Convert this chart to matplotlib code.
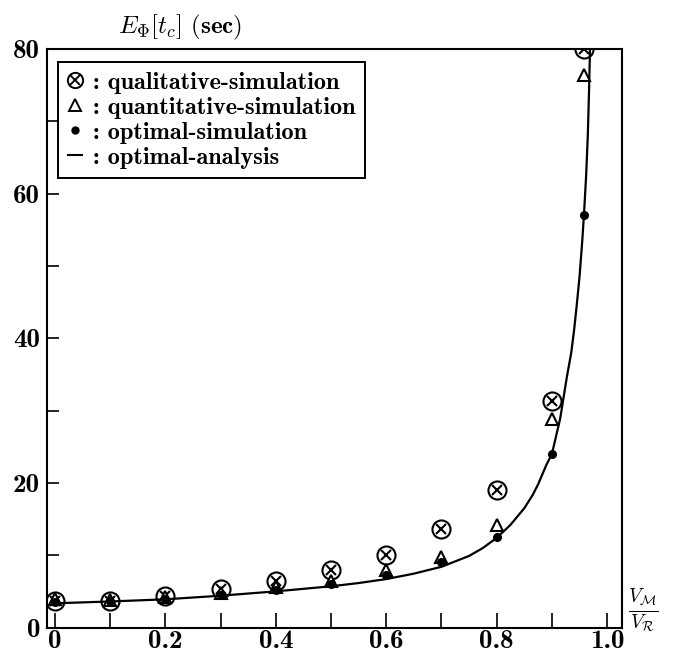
import numpy as np
import matplotlib
matplotlib.use("Agg")
import matplotlib.pyplot as plt
from matplotlib.lines import Line2D
from matplotlib.legend_handler import HandlerTuple

plt.rcParams['mathtext.fontset'] = 'cm'
plt.rcParams['axes.unicode_minus'] = False

# speed ratio V_M / V_R
ratio = [0.0, 0.1, 0.2, 0.3, 0.4, 0.5, 0.6, 0.7, 0.8, 0.9, 0.958]
qual_sim = [3.7, 3.7, 4.3, 5.3, 6.5, 8.0, 10.0, 13.6, 19.0, 31.3, 80.0]
quant_sim = [3.9, 3.8, 4.2, 4.8, 5.6, 6.5, 8.0, 9.7, 14.2, 28.9, 76.4]
opt_sim = [3.5, 3.6, 4.0, 4.5, 5.2, 6.0, 7.2, 9.0, 12.5, 24.0, 57.0]

# analytic curve for the optimal strategy
curve_x = [0.0, 0.1, 0.2, 0.3, 0.4, 0.5, 0.55, 0.6, 0.65, 0.7, 0.75, 0.775, 0.8,
           0.825, 0.85, 0.865, 0.875, 0.89, 0.9, 0.915, 0.927, 0.935, 0.94,
           0.945, 0.95, 0.955, 0.958, 0.962, 0.965, 0.967, 0.969]
curve_y = [3.35, 3.6, 3.9, 4.4, 5.0, 5.7, 6.15, 6.7, 7.45, 8.4, 9.9, 11.0, 12.4,
           14.2, 16.5, 18.3, 19.8, 22.5, 24.0, 28.9, 34.6, 38.0, 41.0,
           44.6, 48.5, 53.5, 57.0, 62.5, 68.0, 73.5, 80.0]

fig = plt.figure(figsize=(6.77, 6.54), dpi=100)
ax = fig.add_axes([0.0694, 0.0405, 0.8494, 0.8845])

ax.plot(curve_x, curve_y, color='black', lw=1.6, zorder=2)
ax.plot(ratio, qual_sim, ls='none', marker='o', ms=13, mfc='none', mec='black', mew=1.5, zorder=3)
ax.plot(ratio, qual_sim, ls='none', marker='x', ms=7.5, mec='black', mew=1.5, zorder=3)
ax.plot(ratio, quant_sim, ls='none', marker='^', ms=9, mfc='white', mec='black', mew=1.5, zorder=3)
ax.plot(ratio, opt_sim, ls='none', marker='o', ms=5.5, color='black', zorder=4)

ax.set_xlim(-0.0145, 1.027)
ax.set_ylim(0, 80)
ax.set_xticks(np.arange(0, 1.01, 0.1))
ax.set_xticklabels(['0', '', '0.2', '', '0.4', '', '0.6', '', '0.8', '', '1.0'])
ax.set_yticks(np.arange(0, 81, 10))
ax.set_yticklabels(['0', '', '20', '', '40', '', '60', '', '80'])
ax.tick_params(axis='x', direction='in', length=11, width=1.2, pad=1.5)
ax.tick_params(axis='y', direction='in', length=8.5, width=1.2, pad=5)
for lab in ax.get_xticklabels() + ax.get_yticklabels():
    lab.set_fontfamily('cmb10')
    lab.set_fontsize(19.5)
for s in ax.spines.values():
    s.set_linewidth(1.5)

# legend
h_qual = (Line2D([], [], ls='none', marker='o', ms=11, mfc='none', mec='black', mew=1.4),
          Line2D([], [], ls='none', marker='x', ms=6.5, mec='black', mew=1.4))
h_quant = Line2D([], [], ls='none', marker='^', ms=8, mfc='white', mec='black', mew=1.4)
h_opt = Line2D([], [], ls='none', marker='o', ms=5, color='black')
h_line = Line2D([], [], color='black', lw=1.5)
leg = ax.legend([h_qual, h_quant, h_opt, h_line],
                [': qualitative-simulation', ': quantitative-simulation',
                 ': optimal-simulation', ': optimal-analysis'],
                handler_map={tuple: HandlerTuple(ndivide=1)},
                loc='upper left', bbox_to_anchor=(0.019, 0.9775), borderaxespad=0,
                prop={'family': 'cmb10', 'size': 17.5}, handlelength=0.6,
                handletextpad=0.45, labelspacing=0.12, borderpad=0.4,
                fancybox=False, framealpha=1, edgecolor='black')
leg.get_frame().set_linewidth(1.4)

fig.text(0.175, 0.958, r'$E_{\mathbf{\Phi}}[t_c]$ $\mathbf{(sec)}$', fontsize=18,
         ha='left', va='center')
fig.text(0.95, 0.067, r'$\frac{V_{\mathcal{M}}}{V_{\mathcal{R}}}$', fontsize=20,
         ha='center', va='center')

fig.savefig('out.png', dpi=100)
